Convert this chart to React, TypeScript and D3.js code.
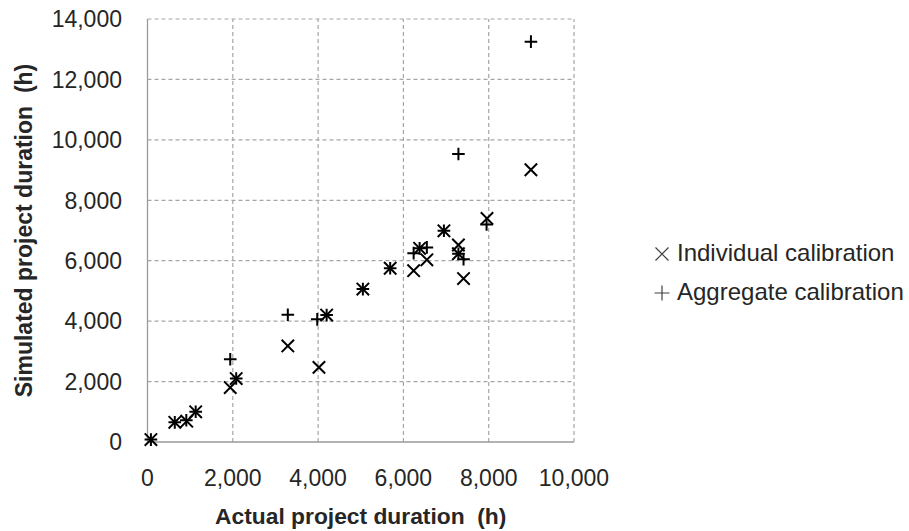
import React, { useEffect, useRef } from 'react';
import * as d3 from 'd3';

// values (hours)
const individualX = [80, 640, 920, 1130, 1940, 2080, 3290, 4020, 4200, 5050, 5690, 6240, 6380, 6550, 6950, 7290, 7290, 7410, 7960, 8990];
const individualY = [80, 650, 690, 1000, 1800, 2100, 3180, 2470, 4200, 5060, 5750, 5670, 6410, 6030, 6990, 6520, 6230, 5410, 7400, 9010];
const aggregateX = [80, 640, 910, 1130, 1940, 2080, 3290, 3980, 4200, 5050, 5690, 6240, 6380, 6550, 6950, 7290, 7290, 7410, 7950, 8990];
const aggregateY = [80, 650, 720, 1000, 2740, 2100, 4210, 4060, 4200, 5060, 5750, 6250, 6410, 6440, 6990, 9530, 6230, 6050, 7200, 13250];

const xTicks = [0, 2000, 4000, 6000, 8000, 10000];
const yTicks = [0, 2000, 4000, 6000, 8000, 10000, 12000, 14000];

const seriesNames = ['Individual calibration', 'Aggregate calibration'];

const W = 909;
const H = 531;
const FONT = '"Liberation Sans", Arial, sans-serif';
const TEXT = '#262626';
const GRID = '#a6a6a6';

export default function App() {
  const node = useRef<SVGSVGElement>(null);

  useEffect(() => {
    const svg = d3.select(node.current);
    svg.selectAll('*').remove();

    const x = d3.scaleLinear().domain([0, 10000]).range([147.5, 574]);
    const y = d3.scaleLinear().domain([0, 14000]).range([442, 19]);
    const fmt = d3.format(',');

    // grid
    const grid = svg.append('g');
    grid.selectAll('.hg')
      .data(yTicks.filter(d => d > 0))
      .enter().append('line')
      .attr('x1', x(0)).attr('x2', x(10000))
      .attr('y1', d => y(d)).attr('y2', d => y(d))
      .attr('stroke', GRID).attr('stroke-width', 1.2)
      .attr('stroke-dasharray', '4,3');
    grid.selectAll('.vg')
      .data(xTicks.filter(d => d > 0))
      .enter().append('line')
      .attr('x1', d => x(d)).attr('x2', d => x(d))
      .attr('y1', y(0)).attr('y2', y(14000))
      .attr('stroke', GRID).attr('stroke-width', 1.2)
      .attr('stroke-dasharray', '4,3');

    // axis lines
    svg.append('line')
      .attr('x1', x(0)).attr('x2', x(0))
      .attr('y1', y(0)).attr('y2', y(14000))
      .attr('stroke', '#9a9a9a').attr('stroke-width', 1.3);
    svg.append('line')
      .attr('x1', x(0)).attr('x2', x(10000))
      .attr('y1', y(0)).attr('y2', y(0))
      .attr('stroke', '#9a9a9a').attr('stroke-width', 1.3);

    // tick labels
    svg.append('g').selectAll('text')
      .data(yTicks).enter().append('text')
      .attr('x', 122).attr('y', d => y(d)).attr('dy', '0.36em')
      .attr('text-anchor', 'end')
      .attr('font-family', FONT).attr('font-size', 23).attr('fill', TEXT)
      .text(d => fmt(d));
    svg.append('g').selectAll('text')
      .data(xTicks).enter().append('text')
      .attr('x', d => x(d)).attr('y', 486)
      .attr('text-anchor', 'middle')
      .attr('font-family', FONT).attr('font-size', 23).attr('fill', TEXT)
      .text(d => fmt(d));

    // axis titles
    svg.append('text')
      .attr('x', (x(0) + x(10000)) / 2).attr('y', 524)
      .attr('text-anchor', 'middle')
      .attr('font-family', FONT).attr('font-size', 22.8).attr('font-weight', 'bold').attr('fill', TEXT)
      .style('white-space', 'pre')
      .text('Actual project duration  (h)');
    svg.append('text')
      .attr('transform', `translate(32,${(y(0) + y(14000)) / 2}) rotate(-90)`)
      .attr('text-anchor', 'middle')
      .attr('font-family', FONT).attr('font-size', 23).attr('font-weight', 'bold').attr('fill', TEXT)
      .style('white-space', 'pre')
      .text('Simulated project duration  (h)');

    const cross = (s: number) => `M${-s},${-s}L${s},${s}M${-s},${s}L${s},${-s}`;
    const plus = (s: number) => `M${-s},0L${s},0M0,${-s}L0,${s}`;

    // markers
    svg.append('g').selectAll('path')
      .data(d3.zip(individualX, individualY)).enter().append('path')
      .attr('transform', d => `translate(${x(d[0])},${y(d[1])})`)
      .attr('d', cross(6.2))
      .attr('stroke', '#000').attr('stroke-width', 2).attr('fill', 'none');
    svg.append('g').selectAll('path')
      .data(d3.zip(aggregateX, aggregateY)).enter().append('path')
      .attr('transform', d => `translate(${x(d[0])},${y(d[1])})`)
      .attr('d', plus(6.3))
      .attr('stroke', '#000').attr('stroke-width', 2).attr('fill', 'none');

    // legend
    const legend = svg.append('g').selectAll('g')
      .data(seriesNames).enter().append('g')
      .attr('transform', (d, i) => `translate(662,${254 + i * 39})`);
    legend.append('path')
      .attr('d', (d, i) => (i === 0 ? cross(6.5) : plus(7.5)))
      .attr('stroke', '#404040').attr('stroke-width', 1.2).attr('fill', 'none');
    legend.append('text')
      .attr('x', 15).attr('y', 7)
      .attr('font-family', FONT).attr('font-size', 24).attr('fill', TEXT)
      .text(d => d);
  }, []);

  return (
    <div className="chart-container">
      <svg ref={node} width={W} height={H}
        style={{ position: 'absolute', left: 0, top: 0, background: '#fff' }} />
    </div>
  );
}
